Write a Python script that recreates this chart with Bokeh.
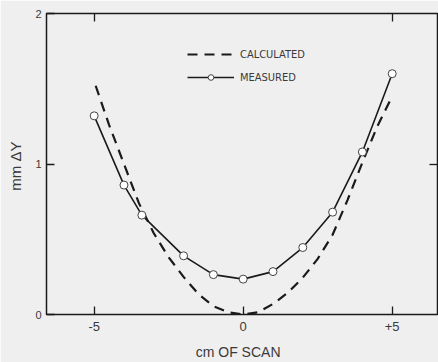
from bokeh.plotting import figure
from bokeh.models import (LinearAxis, FixedTicker, Range1d, Legend, LegendItem)
from bokeh.embed import file_html
from bokeh.resources import INLINE

# Measured data (cm of scan vs mm ΔY)
meas_x = [-5, -4, -3.4, -2, -1, 0, 1, 2, 3, 4, 5]
meas_y = [1.32, 0.86, 0.66, 0.39, 0.265, 0.235, 0.285, 0.445, 0.68, 1.08, 1.60]

# Calculated curve
calc_x = [-4.95, -4.5, -4.0, -3.5, -3.0, -2.5, -2.0, -1.5, -1.0, -0.5, 0.0,
          0.5, 1.0, 1.5, 2.0, 2.5, 3.0, 3.5, 4.0, 4.5, 4.95]
calc_y = [1.52, 1.26, 1.0, 0.74, 0.54, 0.38, 0.25, 0.135, 0.055, 0.015, 0.0,
          0.015, 0.07, 0.145, 0.245, 0.37, 0.53, 0.76, 1.01, 1.25, 1.43]

x_ticks = [-5, 0, 5]
x_tick_labels = {-5: "-5", 0: "0", 5: "+5"}
y_ticks = [0, 1, 2]

BG = "#efefef"
INK = "#1a1a1a"
TXT = "#3a3a3a"

p = figure(width=438, height=362, output_backend="svg", toolbar_location=None,
           x_range=Range1d(-6.6, 6.52), y_range=Range1d(0, 2),
           x_axis_location=None, y_axis_location=None)
p.min_border_left = 46
p.min_border_right = 1
p.min_border_top = 13
p.min_border_bottom = 48
p.background_fill_color = BG
p.border_fill_color = BG
p.outline_line_color = INK
p.outline_line_width = 1.5
p.grid.visible = False

def style_axis(ax, font_size, standoff):
    ax.axis_line_color = None
    ax.major_tick_line_color = INK
    ax.major_tick_line_width = 1.3
    ax.major_tick_in = 8
    ax.major_tick_out = 0
    ax.minor_tick_line_color = None
    ax.major_label_text_font = "Liberation Sans"
    ax.major_label_text_font_size = font_size
    ax.major_label_text_color = TXT
    ax.major_label_standoff = standoff
    ax.axis_label_text_font = "Liberation Sans"
    ax.axis_label_text_font_style = "normal"
    ax.axis_label_text_color = TXT

xb = LinearAxis(ticker=FixedTicker(ticks=x_ticks), major_label_overrides=x_tick_labels,
                axis_label="cm  OF  SCAN")
style_axis(xb, "13px", 7)
xb.axis_label_text_font_size = "14px"
xb.axis_label_standoff = 10
p.add_layout(xb, "below")

yl = LinearAxis(ticker=FixedTicker(ticks=y_ticks), axis_label="mm  ΔY")
style_axis(yl, "11px", 5)
yl.axis_label_text_font_size = "15px"
yl.axis_label_standoff = 8
p.add_layout(yl, "left")

xt = LinearAxis(ticker=FixedTicker(ticks=[-5, 5]))
style_axis(xt, "0px", 0)
xt.major_label_text_alpha = 0
p.add_layout(xt, "above")

yr = LinearAxis(ticker=FixedTicker(ticks=[1]))
style_axis(yr, "0px", 0)
yr.major_label_text_alpha = 0
p.add_layout(yr, "right")

calc = p.line(calc_x, calc_y, line_color=INK, line_width=2.2, line_dash="10 7")
meas_line = p.line(meas_x, meas_y, line_color=INK, line_width=1.6)
meas_pts = p.scatter(meas_x, meas_y, size=8, fill_color="white",
                     line_color="#444444", line_width=1)

legend = Legend(items=[LegendItem(label="CALCULATED", renderers=[calc]),
                       LegendItem(label="MEASURED", renderers=[meas_line, meas_pts])],
                location=(141, 230))
legend.glyph_width = 47
legend.glyph_height = 14
legend.spacing = 9
legend.padding = 0
legend.margin = 0
legend.label_standoff = 6
legend.border_line_color = None
legend.background_fill_alpha = 0
legend.label_text_font = "'DejaVu Sans Condensed', 'Liberation Sans', sans-serif"
legend.label_text_font_size = "11px"
legend.label_text_color = TXT
p.add_layout(legend, "center")

open("out.html", "w").write(file_html(p, INLINE))
